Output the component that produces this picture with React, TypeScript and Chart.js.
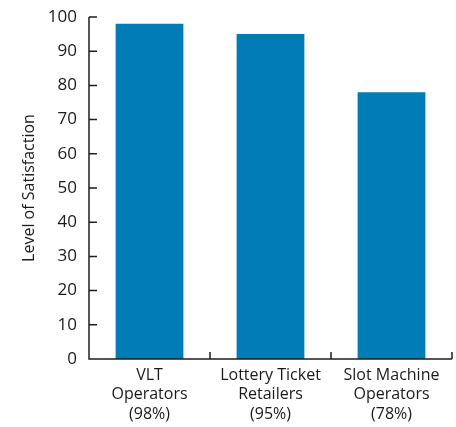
import React, { useEffect, useRef } from "react";
import { Chart, registerables } from "chart.js";

Chart.register(...registerables);

const categories: string[][] = [
  ["VLT", "Operators", "(98%)"],
  ["Lottery Ticket", "Retailers", "(95%)"],
  ["Slot Machine", "Operators", "(78%)"],
];
const satisfaction: number[] = [98, 95, 78];
const yTicks: number[] = [0, 10, 20, 30, 40, 50, 60, 70, 80, 90, 100];
const yTitle = "Level of Satisfaction";

const FONT = "'Open Sans', 'DejaVu Sans', sans-serif";
const AXIS_COLOR = "#1e1e1e";

const axisTicksPlugin = {
  id: "axisTicks",
  afterDraw(chart: any) {
    const ctx = chart.ctx;
    const x = chart.scales.x;
    const y = chart.scales.y;
    const area = chart.chartArea;
    ctx.save();
    ctx.strokeStyle = AXIS_COLOR;
    ctx.lineWidth = 1.5;
    ctx.beginPath();
    ctx.moveTo(area.left, y.getPixelForValue(100));
    ctx.lineTo(area.left, y.getPixelForValue(0));
    ctx.lineTo(area.right, y.getPixelForValue(0));
    yTicks.forEach((v) => {
      const py = y.getPixelForValue(v);
      ctx.moveTo(area.left, py);
      ctx.lineTo(area.left + 8, py);
    });
    const base = y.getPixelForValue(0);
    const n = categories.length;
    const step = n > 1 ? x.getPixelForValue(1) - x.getPixelForValue(0) : area.right - area.left;
    for (let i = 0; i < n; i++) {
      const px = x.getPixelForValue(i) + step / 2;
      ctx.moveTo(px, base);
      ctx.lineTo(px, base - 7);
    }
    ctx.stroke();
    ctx.restore();
  },
};

export default function App() {
  const ref = useRef<HTMLCanvasElement | null>(null);
  useEffect(() => {
    if (!ref.current) return;
    const chart = new Chart(ref.current, {
      type: "bar",
      data: {
        labels: categories,
        datasets: [
          {
            data: satisfaction,
            backgroundColor: "#017cb4",
            borderWidth: 0,
            categoryPercentage: 1,
            barPercentage: 0.56,
          },
        ],
      },
      options: {
        animation: false,
        responsive: false,
        devicePixelRatio: 1,
        layout: { padding: { top: 17, right: 4, left: 0, bottom: 0 } },
        plugins: {
          legend: { display: false },
          tooltip: { enabled: false },
        },
        scales: {
          x: {
            grid: { display: false, drawTicks: false },
            border: { display: false },
            ticks: {
              color: "#1a1a1a",
              font: { family: FONT, size: 16, lineHeight: 1.2 },
              padding: 7,
              maxRotation: 0,
              autoSkip: false,
            },
            afterFit: (s: any) => {
              s.height = 68;
              s.paddingLeft = 0;
              s.paddingRight = 0;
            },
          },
          y: {
            min: 0,
            max: 100,
            grid: { display: false, drawTicks: false },
            border: { display: false },
            ticks: {
              stepSize: 10,
              color: "#1a1a1a",
              font: { family: FONT, size: 17 },
              padding: 12,
            },
            title: {
              display: true,
              text: yTitle,
              color: "#1a1a1a",
              font: { family: FONT, size: 16 },
              padding: { top: 20, bottom: 0 },
            },
            afterFit: (s: any) => {
              s.width = 89;
              s.paddingTop = 0;
              s.paddingBottom = 0;
            },
          },
        },
      },
      plugins: [axisTicksPlugin],
    });
    return () => chart.destroy();
  }, []);
  return (
    <div style={{ position: "absolute", left: 0, top: 0, width: 456, height: 427, background: "#fff" }}>
      <canvas ref={ref} width={456} height={427} />
    </div>
  );
}
